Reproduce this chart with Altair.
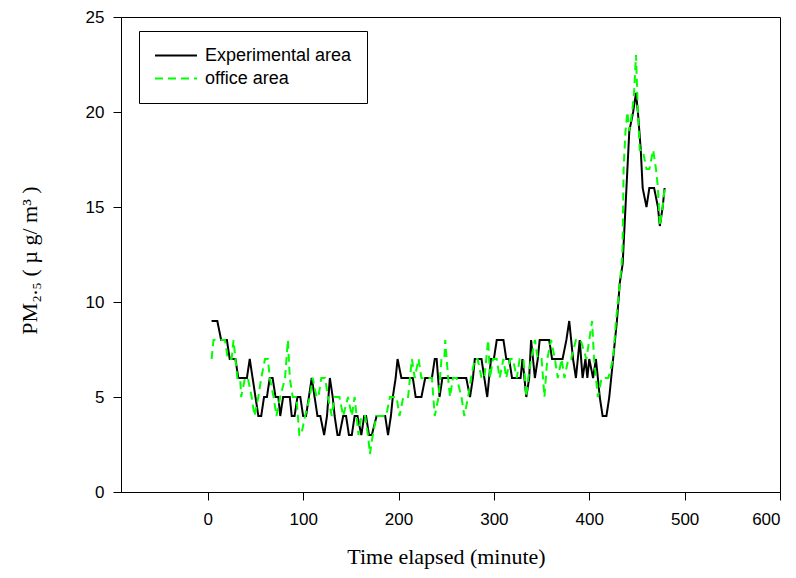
import altair as alt
import pandas as pd

series_names = ["Experimental area", "office area"]

exp_t = [4, 7, 10, 14, 17, 20, 23, 26, 29, 32, 35, 38, 41, 44, 47, 50, 53, 56, 59, 62,
         65, 68, 71, 74, 76, 79, 83, 86, 88, 91, 94, 97, 100, 103, 106, 109, 112, 115, 118, 122,
         125, 128, 131, 133, 136, 138, 142, 145, 148, 151, 154, 157, 161, 164, 166, 169, 172, 177, 180, 183,
         186, 189, 192, 194, 197, 199, 203, 206, 209, 212, 215, 218, 221, 224, 228, 231, 235, 238, 240, 243,
         246, 249, 252, 256, 260, 264, 268, 271, 275, 278, 280, 284, 287, 290, 293, 297, 300, 303, 306, 310,
         313, 316, 319, 322, 325, 328, 330, 334, 337, 339, 343, 346, 348, 352, 355, 358, 361, 364, 368, 372,
         376, 379, 383, 386, 388, 390, 393, 396, 398, 400, 404, 407, 409, 411, 414, 418, 421, 425, 429, 432,
         435, 437, 440, 442, 446, 449, 451, 454, 456, 460, 463, 468, 472, 474, 477, 479]
exp_v = [9, 9, 9, 8, 8, 8, 7, 7, 7, 6, 6, 6, 6, 7, 6, 5, 4, 4, 5, 5,
         6, 6, 5, 5, 4, 5, 5, 5, 4, 4, 5, 5, 4, 4, 5, 6, 5, 4, 4, 3,
         4, 6, 5, 4, 3, 3, 4, 4, 3, 3, 4, 4, 3, 4, 4, 3, 3, 4, 4, 4,
         4, 3, 4, 5, 6, 7, 6, 6, 6, 6, 6, 5, 5, 5, 6, 6, 6, 7, 7, 5,
         6, 6, 6, 6, 6, 6, 6, 6, 5, 6, 7, 7, 7, 6, 5, 7, 7, 8, 8, 8,
         7, 7, 6, 6, 6, 6, 7, 5, 6, 8, 6, 7, 8, 8, 8, 8, 7, 7, 7, 7,
         8, 9, 7, 6, 7, 8, 6, 7, 6, 7, 6, 7, 6, 5, 4, 4, 5, 7, 9, 11,
         12, 14, 17, 19, 20, 21, 20, 18, 16, 15, 16, 16, 15, 14, 15, 16]

off_t = [4, 6, 11, 15, 18, 21, 25, 27, 29, 31, 34, 35, 39, 42, 46, 49, 53, 56, 60, 63,
         65, 69, 72, 76, 81, 84, 86, 89, 93, 96, 98, 102, 107, 110, 114, 116, 119, 123, 126, 130,
         133, 138, 142, 147, 151, 154, 158, 161, 165, 168, 170, 173, 177, 182, 187, 191, 194, 198, 201, 205,
         210, 214, 217, 221, 224, 229, 235, 238, 242, 245, 248, 249, 252, 254, 257, 261, 266, 269, 273, 276,
         280, 283, 287, 290, 294, 296, 299, 303, 306, 310, 313, 317, 320, 324, 327, 331, 334, 336, 339, 343,
         346, 350, 353, 356, 360, 364, 367, 371, 374, 378, 381, 386, 391, 397, 403, 405, 407, 409, 413, 416,
         420, 425, 428, 430, 434, 435, 436, 438, 440, 442, 445, 447, 449, 451, 453, 456, 460, 463, 467, 470,
         472, 474, 477, 479]
off_v = [7, 8, 8, 8, 8, 7, 7, 8, 7, 6, 6, 5, 6, 6, 5, 4, 5, 6, 7, 7,
         6, 5, 4, 5, 6, 8, 6, 5, 5, 3, 3, 4, 5, 6, 5, 5, 6, 6, 5, 4,
         5, 5, 4, 5, 4, 5, 3, 4, 4, 3, 2, 3, 4, 4, 4, 5, 5, 5, 4, 5,
         5, 7, 6, 7, 6, 6, 6, 4, 5, 7, 7, 8, 6, 5, 6, 6, 5, 4, 5, 6,
         7, 7, 6, 6, 8, 6, 7, 7, 6, 7, 6, 7, 7, 6, 7, 7, 5, 6, 7, 8,
         7, 7, 5, 7, 8, 7, 6, 7, 6, 7, 7, 8, 8, 7, 9, 7, 6, 5, 6, 6,
         6, 7, 9, 10, 12, 13, 17, 19, 20, 19, 20, 21, 23, 20, 18, 18, 17, 17, 18, 17,
         16, 14, 15, 16]

x_ticks = [0, 100, 200, 300, 400, 500, 600]
y_ticks = [0, 5, 10, 15, 20, 25]

df = pd.DataFrame({
    "time": exp_t + off_t,
    "pm": exp_v + off_v,
    "series": [series_names[0]] * len(exp_t) + [series_names[1]] * len(off_t),
})

chart = alt.Chart(df).mark_line(strokeWidth=2).encode(
    x=alt.X("time:Q",
            scale=alt.Scale(domain=[-91, 600], nice=False, zero=False),
            axis=alt.Axis(values=x_ticks, title="Time elapsed (minute)",
                          labelPadding=11, titleY=71, titleX=325,
                          titleBaseline="alphabetic")),
    y=alt.Y("pm:Q",
            scale=alt.Scale(domain=[0, 25], nice=False, zero=True),
            axis=alt.Axis(values=y_ticks, title="PM₂.₅ ( µ g/ m³ )",
                          labelPadding=9, titleX=-85, titleY=243,
                          titleBaseline="alphabetic", titleAngle=270)),
    color=alt.Color("series:N",
                    scale=alt.Scale(domain=series_names, range=["#000000", "#00ff00"]),
                    legend=alt.Legend(title=None)),
    strokeDash=alt.StrokeDash("series:N",
                              scale=alt.Scale(domain=series_names, range=[[1, 0], [8, 5]]),
                              legend=alt.Legend(title=None)),
).properties(
    width=659,
    height=475,
    autosize=alt.AutoSizeParams(type="none"),
    padding={"left": 113, "top": 9, "right": 8, "bottom": 84},
).configure_view(
    stroke="black", strokeWidth=1
).configure_axis(
    grid=False,
    domainColor="black",
    domainWidth=1,
    tickColor="black",
    tickWidth=1,
    tickSize=8,
    labelFont="Liberation Sans",
    labelFontSize=17,
    labelColor="black",
    titleFont="Liberation Serif",
    titleFontSize=22,
    titleFontWeight="normal",
    titleColor="black",
).configure_legend(
    orient="none",
    legendX=18,
    legendY=14,
    strokeColor="black",
    fillColor="white",
    padding=15,
    cornerRadius=0,
    labelFont="Liberation Sans",
    labelFontSize=18,
    labelColor="black",
    labelOffset=7,
    symbolType="stroke",
    symbolSize=1764,
    symbolStrokeWidth=2,
    clipHeight=19,
    rowPadding=4,
)

chart.save("out.html", embed_options={"renderer": "svg", "actions": False})
